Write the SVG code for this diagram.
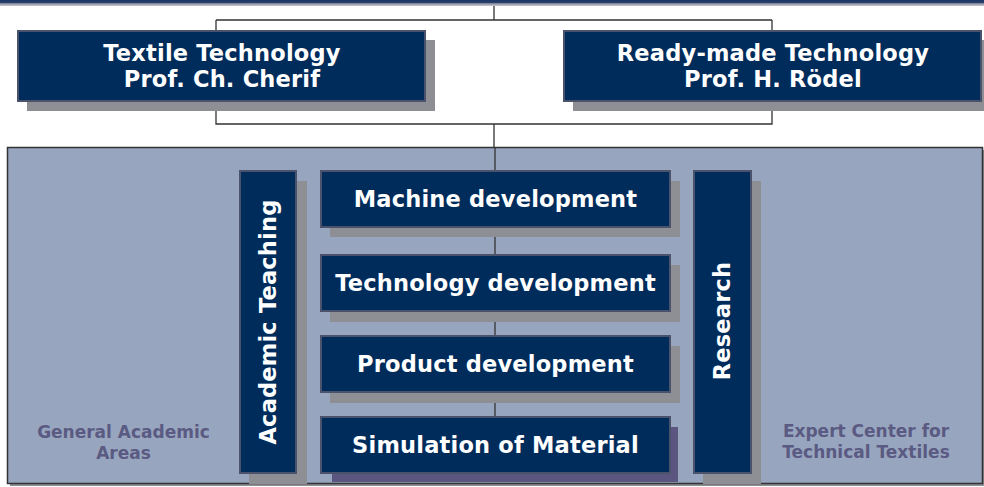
<svg xmlns="http://www.w3.org/2000/svg" width="984" height="487" viewBox="0 0 984 487">
<defs>
<linearGradient id="topbar" x1="0" y1="0" x2="0" y2="1">
<stop offset="0" stop-color="#1b3563"/>
<stop offset="0.45" stop-color="#2b4270"/>
<stop offset="0.55" stop-color="#7d8494"/>
<stop offset="1" stop-color="#c9ccd3"/>
</linearGradient>
<style>
.box{fill:#002c5c;stroke:#4a526c;stroke-width:2}
.shadow{fill:#8e8f94}
.t{font-family:"DejaVu Sans",Verdana,sans-serif;font-weight:bold;fill:#ffffff;text-anchor:middle;font-size:22.5px;letter-spacing:0.2px}
.g{font-family:"DejaVu Sans",Verdana,sans-serif;font-weight:bold;fill:#5a5a82;text-anchor:middle;font-size:17px}
.c{stroke:#333333;stroke-width:1.3;fill:none}
</style>
</defs>
<rect x="0" y="0" width="984" height="6" fill="url(#topbar)"/>
<g id="panel">
<rect x="10" y="150" width="975" height="336" fill="#8e8f94"/>
<rect x="7.5" y="147.5" width="975" height="336" fill="#98a5bf" stroke="#333333" stroke-width="1.5"/>
</g>
<g id="connectors">
<path class="c" d="M494 6V20M216 20H772M216 20V31M772 20V31"/>
<path class="c" d="M216 101V124H772V101M494 124V148"/>
<path class="c" d="M495 148V171M495 227V255M495 311V336M495 392V417"/>
</g>
<g id="textile">
<rect class="shadow" x="27" y="40" width="408" height="71"/>
<rect class="box" x="18" y="31" width="407" height="70"/>
<text class="t" x="222" y="61">Textile Technology</text>
<text class="t" x="222" y="87">Prof. Ch. Cherif</text>
</g>
<g id="readymade">
<rect class="shadow" x="573" y="40" width="420" height="71"/>
<rect class="box" x="564" y="31" width="417" height="70"/>
<text class="t" x="773" y="61">Ready-made Technology</text>
<text class="t" x="773" y="87">Prof. H. Rödel</text>
</g>
<g id="academic">
<rect class="shadow" x="249" y="181" width="58" height="303"/>
<rect class="box" x="240" y="171" width="56" height="302"/>
<text class="t" transform="translate(275.5 322) rotate(-90)">Academic Teaching</text>
</g>
<g id="machine">
<rect class="shadow" x="330" y="181" width="350" height="56"/>
<rect class="box" x="321" y="171" width="349" height="56"/>
<text class="t" x="495.5" y="207">Machine development</text>
</g>
<g id="technology">
<rect class="shadow" x="330" y="265" width="350" height="57"/>
<rect class="box" x="321" y="255" width="349" height="56"/>
<text class="t" x="495.5" y="291">Technology development</text>
</g>
<g id="product">
<rect class="shadow" x="330" y="346" width="350" height="57"/>
<rect class="box" x="321" y="336" width="349" height="56"/>
<text class="t" x="495.5" y="372">Product development</text>
</g>
<g id="simulation">
<rect x="332" y="427" width="346" height="55" fill="#5a5680"/>
<rect class="box" x="321" y="417" width="349" height="56"/>
<text class="t" x="495.5" y="453">Simulation of Material</text>
</g>
<g id="research">
<rect class="shadow" x="703" y="181" width="58" height="303"/>
<rect class="box" x="694" y="171" width="57" height="302"/>
<text class="t" transform="translate(730 321) rotate(-90)">Research</text>
</g>
<g id="general">
<text class="g" x="123.5" y="438">General Academic</text>
<text class="g" x="123.5" y="459">Areas</text>
</g>
<g id="expert">
<text class="g" x="866" y="437">Expert Center for</text>
<text class="g" x="866" y="458">Technical Textiles</text>
</g>
</svg>
